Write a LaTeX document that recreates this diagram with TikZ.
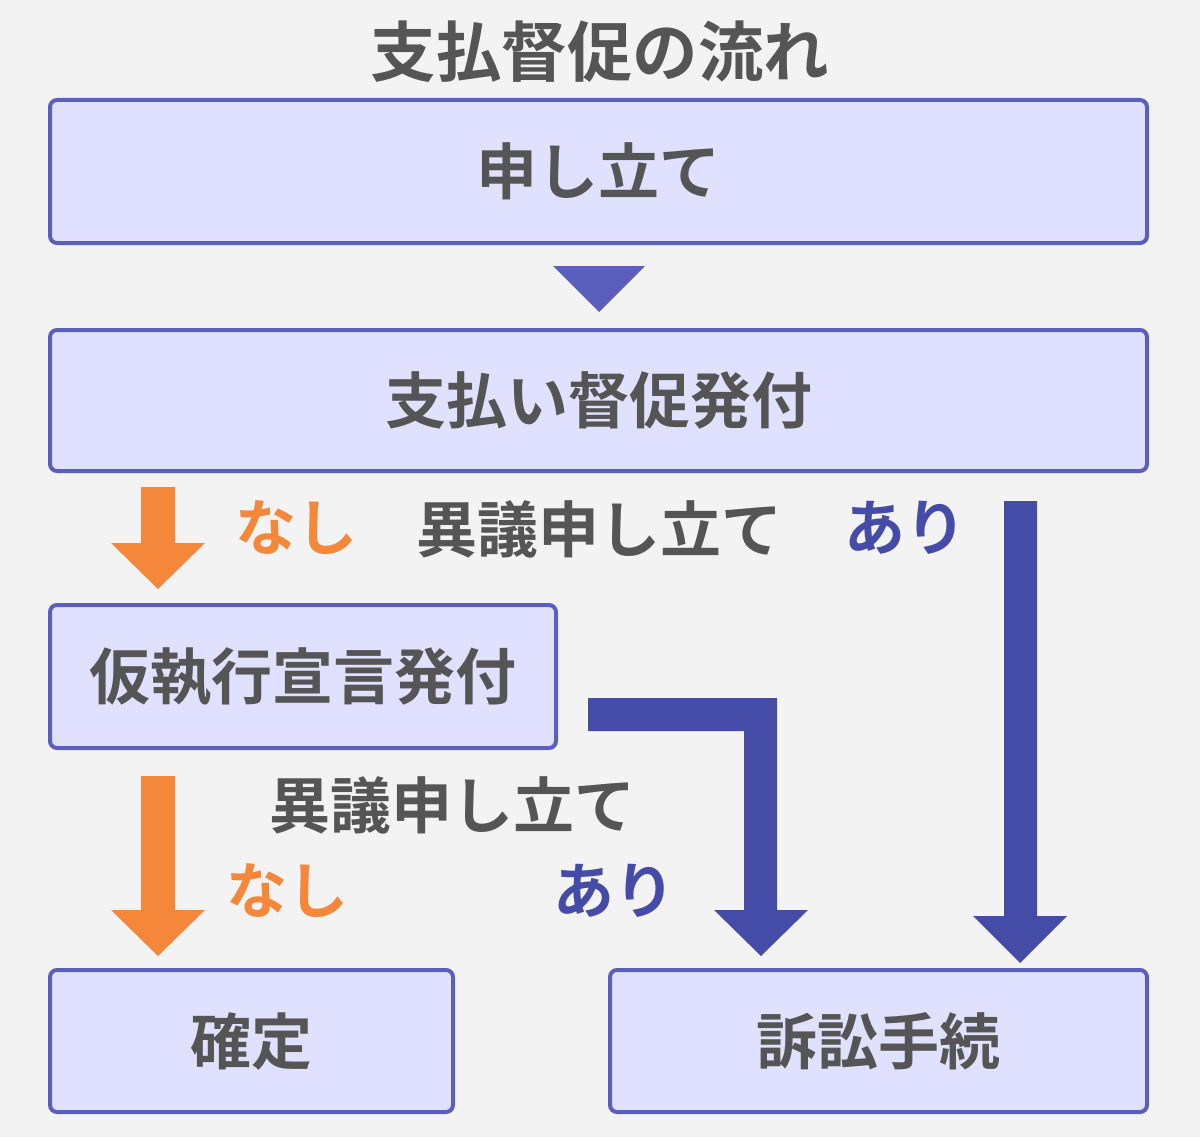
\documentclass[tikz,border=0pt]{standalone}
\usepackage{fontspec}
\newfontfamily\jp{Noto Sans CJK JP}[BoldFont={Noto Sans CJK JP Bold}]
\definecolor{bgc}{HTML}{F3F3F3}
\definecolor{boxline}{HTML}{5A5FBE}
\definecolor{boxfill}{HTML}{E0E1FF}
\definecolor{arrblue}{HTML}{454CA8}
\definecolor{arrorange}{HTML}{F5873A}
\definecolor{txt}{HTML}{555555}
\begin{document}
\begin{tikzpicture}[x=1pt,y=-1pt,
  stepbox/.style={draw=boxline,fill=boxfill,line width=4pt,rounded corners=7pt,inner sep=0pt},
  lbl/.style={font=\jp\bfseries\fontsize{61}{63}\selectfont,inner sep=0pt,text height=53.7pt,text depth=7.3pt},
  boxtext/.style={lbl,text=txt},
  graytext/.style={lbl,text=txt},
  ortext/.style={lbl,text=arrorange},
  bltext/.style={lbl,text=arrblue}]
\fill[bgc] (0,0) rectangle (1200,1137);
\useasboundingbox (0,0) rectangle (1200,1137);
% title
\node[lbl,text=txt,font=\jp\bfseries\fontsize{65.5}{67}\selectfont,text height=57.6pt,text depth=7.9pt] (title) at (600,52) {支払督促の流れ};
% boxes
\node[stepbox,minimum width=1097pt,minimum height=143pt] (b1) at (598.5,171.5) {};
\node[boxtext] (t1) at (b1.center) {申し立て};
\node[stepbox,minimum width=1097pt,minimum height=141pt] (b2) at (598.5,400.5) {};
\node[boxtext] (t2) at (b2.center) {支払い督促発付};
\node[stepbox,minimum width=506pt,minimum height=143pt] (b3) at (303,676.5) {};
\node[boxtext] (t3) at (b3.center) {仮執行宣言発付};
\node[stepbox,minimum width=403pt,minimum height=142pt] (b4) at (251.5,1041) {};
\node[boxtext] (t4) at (b4.center) {確定};
\node[stepbox,minimum width=537pt,minimum height=142pt] (b5) at (878.5,1041) {};
\node[boxtext] (t5) at (b5.center) {訴訟手続};
% triangle between b1 and b2
\fill[boxline] (553,266) -- (645,266) -- (599,312) -- cycle;
% labels
\node[ortext] (n1) at (296,527) {なし};
\node[graytext] (o1) at (599,529) {異議申し立て};
\node[bltext] (a1) at (905,527) {あり};
\node[graytext] (o2) at (452,805) {異議申し立て};
\node[ortext] (n2) at (287,890) {なし};
\node[bltext] (a2) at (614,890) {あり};
% orange arrows
\fill[arrorange] (141,487) -- (175,487) -- (175,543) -- (205,543) -- (158,589) -- (111,543) -- (141,543) -- cycle;
\fill[arrorange] (141,776) -- (175,776) -- (175,910) -- (205,910) -- (158,956) -- (111,910) -- (141,910) -- cycle;
% blue bent arrow
\fill[arrblue] (588,698) -- (777,698) -- (777,910) -- (808,910) -- (761,956) -- (714,910) -- (744,910) -- (744,731) -- (588,731) -- cycle;
% blue long arrow
\fill[arrblue] (1004,501) -- (1037,501) -- (1037,916) -- (1067,916) -- (1020,963) -- (973,916) -- (1004,916) -- cycle;
\end{tikzpicture}
\end{document}
